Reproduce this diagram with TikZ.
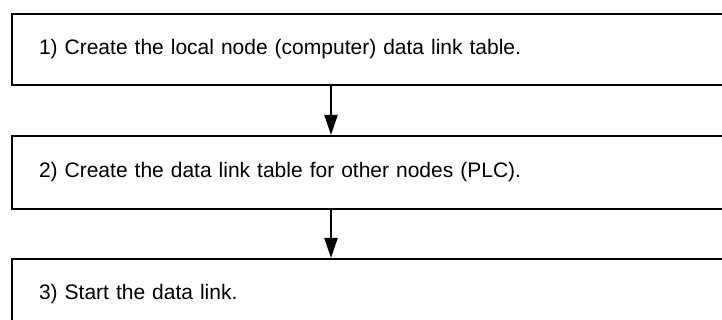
\documentclass[tikz,border=0pt]{standalone}
\usepackage{fontspec}
\setmainfont{Liberation Sans}
\usetikzlibrary{positioning,arrows.meta}

\tikzset{
    stepbox/.style={draw, line width=2pt, minimum width=760pt, minimum height=71pt,
        text width=706pt, align=left, inner xsep=27pt, inner ysep=0pt,
        font=\fontsize{21}{25}\selectfont},
    flow/.style={-{Triangle[length=20pt,width=13pt]}, line width=2pt}
}

\begin{document}
\begin{tikzpicture}[x=1pt, y=-1pt]
    % frame of the picture
    \useasboundingbox (0,0) rectangle (722,320);
    \clip (0,0) rectangle (722,320);

    % the three steps
    \node[stepbox, anchor=north west] (step1) at (11,13)
        {1) Create the local node (computer) data link table.};
    \node[stepbox, minimum height=73pt, below=49pt of step1] (step2)
        {2) Create the data link table for other nodes (PLC).};
    \node[stepbox, below=48pt of step2] (step3)
        {3) Start the data link.};

    % arrows between the steps
    \coordinate (axis) at (331,0);
    \draw[flow] (step1.south -| axis) -- (step2.north -| axis);
    \draw[flow] (step2.south -| axis) -- (step3.north -| axis);
\end{tikzpicture}
\end{document}
